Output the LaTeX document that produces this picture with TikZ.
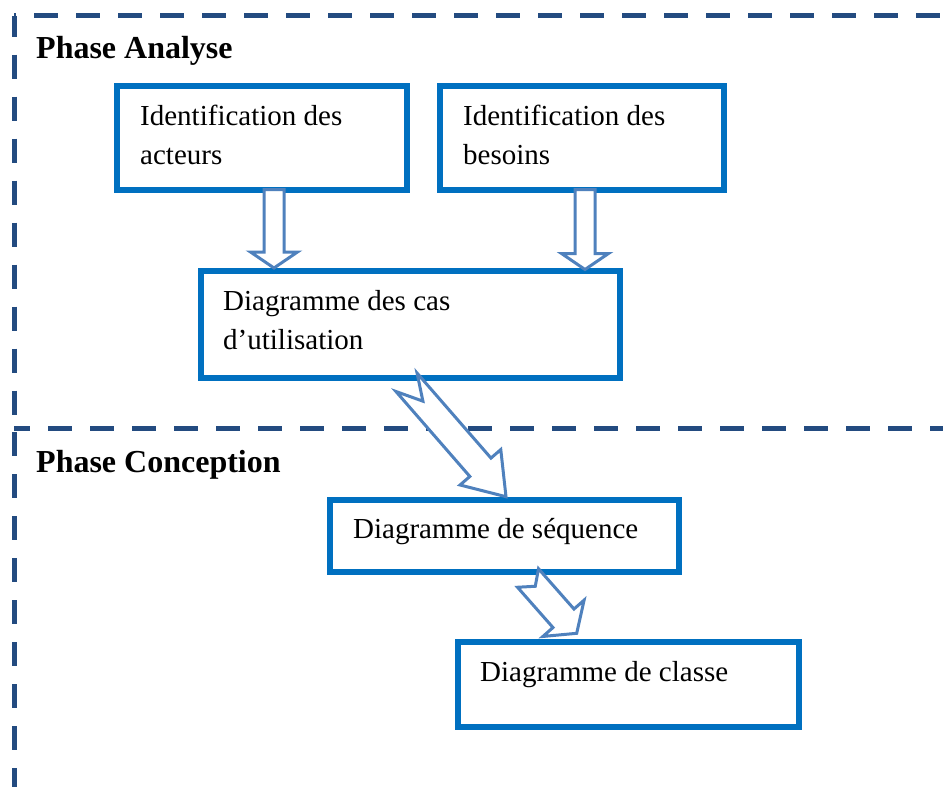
\documentclass[tikz,border=0pt]{standalone}
\usepackage{fontspec}
\setmainfont{Liberation Serif}
\usepackage{tikz}
\usetikzlibrary{calc}

\definecolor{boxblue}{RGB}{0,112,192}
\definecolor{arrowblue}{RGB}{79,129,189}
\definecolor{frameblue}{RGB}{35,75,128}

% hollow block arrow: tail, tip, shaft half width, head half width, head length, notch
\newcommand{\blockarrow}[6]{%
  \coordinate (ba-h) at ($(#2)!#5pt!(#1)$);
  \draw[blockarrow] ($(#1)!#3pt!90:(#2)$) -- ($(ba-h)!#3pt!-90:(#1)$)
    -- ($(ba-h)!#4pt!-90:(#1)$) -- (#2) -- ($(ba-h)!#4pt!90:(#1)$)
    -- ($(ba-h)!#3pt!90:(#1)$) -- ($(#1)!#3pt!-90:(#2)$)
    -- ($(#1)!#6pt!(#2)$) -- cycle;
}

\begin{document}
\begin{tikzpicture}[x=1pt, y=-1pt,
  frame/.style={draw=frameblue, line width=5pt, dash pattern=on 24pt off 18pt},
  box/.style={draw=boxblue, line width=6pt, fill=white, outer sep=0pt,
              inner sep=0pt, anchor=north west},
  boxtext/.style={anchor=north west, inner sep=0pt, align=left,
                  font=\fontsize{29pt}{39pt}\selectfont},
  phase/.style={anchor=base west, inner sep=0pt,
                font=\fontsize{32pt}{38pt}\selectfont\bfseries},
  blockarrow/.style={draw=arrowblue, line width=3pt, fill=white, line join=miter}
]
  \useasboundingbox (0,0) rectangle (943,787);

  % Frames of the two phases
  \draw[frame, dash phase=22pt] (14,15.5) -- (946,15.5);
  \draw[frame, dash phase=3pt] (14,15.5) -- (14,428);
  \draw[frame, dash phase=8pt] (14,428) -- (946,428);
  \draw[frame, dash phase=38pt] (14,428) -- (14,792);
  \draw[frame] (14,789) -- (946,789);

  \node[phase] (analyse) at (36,58) {Phase Analyse};
  \node[phase] (conception) at (36,472) {Phase Conception};

  % Analyse
  \node[box, minimum width=290pt, minimum height=103.5pt] (acteurs) at (117,86) {};
  \node[box, minimum width=284pt, minimum height=103.5pt] (besoins) at (440,86) {};
  \node[box, minimum width=419.5pt, minimum height=106.5pt] (cas) at (200.5,271) {};

  % Conception
  \node[box, minimum width=348.5pt, minimum height=72pt] (seq) at (330,500) {};
  \node[box, minimum width=340.5pt, minimum height=85pt] (classe) at (458,642) {};

  % Texts
  \node[boxtext] (acteurs-txt) at ($(acteurs.north west)+(23,18.9)$) {Identification des\\acteurs};
  \node[boxtext] (besoins-txt) at ($(besoins.north west)+(23,18.9)$) {Identification des\\besoins};
  \node[boxtext] (cas-txt) at ($(cas.north west)+(22.5,18.9)$) {Diagramme des cas\\d’utilisation};
  \node[boxtext] (seq-txt) at ($(seq.north west)+(23,18.4)$) {Diagramme de séquence};
  \node[boxtext] (classe-txt) at ($(classe.north west)+(22,19.6)$) {Diagramme de classe};

  % Arrows
  \coordinate (a1s) at ($(acteurs.south)+(12,0)$);
  \coordinate (a1e) at ($(a1s |- cas.north)+(0,-3)$);
  \blockarrow{a1s}{a1e}{10}{23.5}{16}{0}

  \coordinate (a2s) at ($(besoins.south)+(3,0)$);
  \coordinate (a2e) at ($(a2s |- cas.north)+(0,-1.5)$);
  \blockarrow{a2s}{a2e}{10}{23.5}{16}{0}

  \coordinate (a3s) at ($(cas.south)+(-3.75,4.8)$);
  \coordinate (a3e) at ($(seq.north)+(1.75,-3.3)$);
  \blockarrow{a3s}{a3e}{14}{27}{39}{25}

  \coordinate (a4s) at ($(seq.south)+(23.75,6)$);
  \coordinate (a4e) at ($(classe.north west)+(118.7,-8.7)$);
  \blockarrow{a4s}{a4e}{14}{27.5}{20}{11}
\end{tikzpicture}
\end{document}
